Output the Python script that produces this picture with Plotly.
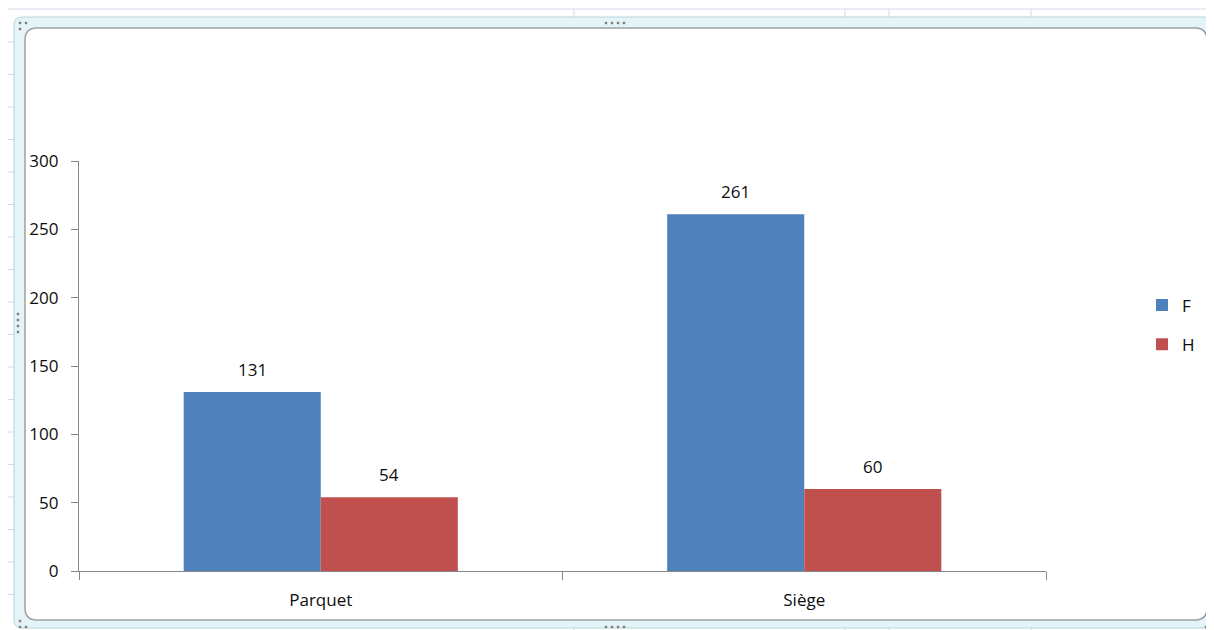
import plotly.graph_objects as go

categories = ["Parquet", "Siège"]
series_names = ["F", "H"]
values_F = [131, 261]
values_H = [54, 60]
colors = ["#4F81BD", "#C0504D"]
y_ticks = [0, 50, 100, 150, 200, 250, 300]

# page body has an 8px margin: the figure starts at (8, 8) of the window
OFF = 8
W, H = 1214, 630
FW, FH = W - OFF, H - OFF
L, R, T, B = 79, 1046, 161, 571   # plot area in window pixels


def px(x):
    return (x - L) / (R - L)


def py(y):
    return (B - y) / (B - T)


def rounded_path(x0, y0, x1, y1, r):
    a0, b0, a1, b1 = px(x0), py(y0), px(x1), py(y1)
    rx = r / (R - L)
    ry = r / (B - T)
    return (f"M {a0+rx},{b0} L {a1-rx},{b0} Q {a1},{b0} {a1},{b0-ry} "
            f"L {a1},{b1+ry} Q {a1},{b1} {a1-rx},{b1} L {a0+rx},{b1} "
            f"Q {a0},{b1} {a0},{b1+ry} L {a0},{b0-ry} Q {a0},{b0} {a0+rx},{b0} Z")


font_family = "Open Sans, Noto Sans, sans-serif"
FS = 17
TXT = "#0D0D0D"

fig = go.Figure()
fig.add_trace(go.Bar(name=series_names[0], x=categories, y=values_F,
                     marker=dict(color=colors[0], line=dict(width=0)),
                     legendgroup="a"))
fig.add_trace(go.Bar(name=series_names[1], x=categories, y=values_H,
                     marker=dict(color=colors[1], line=dict(width=0)),
                     legendgroup="b"))

# data labels above each bar
half_bar = 68.5
annotations = []
for vals, sh in [(values_F, -half_bar), (values_H, half_bar)]:
    for c, v in zip(categories, vals):
        annotations.append(dict(x=c, y=v, xref="x", yref="y", text=str(v),
                                showarrow=False, xshift=sh, yshift=9,
                                yanchor="bottom", xanchor="center",
                                font=dict(size=FS, color=TXT, family=font_family)))

shapes = []
grid_col = "#D4DAE8"
shapes.append(dict(type="line", xref="paper", yref="paper", x0=px(OFF), x1=px(W),
                   y0=py(9), y1=py(9), line=dict(color=grid_col, width=1), layer="below"))
for gx in [574, 845, 889, 1031]:
    shapes.append(dict(type="line", xref="paper", yref="paper", x0=px(gx), x1=px(gx),
                       y0=py(9), y1=py(20), line=dict(color=grid_col, width=1), layer="below"))
    shapes.append(dict(type="line", xref="paper", yref="paper", x0=px(gx), x1=px(gx),
                       y0=py(624), y1=py(H), line=dict(color=grid_col, width=1), layer="below"))
gy = 42
while gy < 625:
    shapes.append(dict(type="line", xref="paper", yref="paper", x0=px(OFF), x1=px(14),
                       y0=py(gy), y1=py(gy), line=dict(color=grid_col, width=1), layer="below"))
    gy += 32.5

# chart frame
shapes.append(dict(type="path", xref="paper", yref="paper",
                   path=rounded_path(14, 17, 1213, 628, 8),
                   fillcolor="#E4F4F7", line=dict(color="#B5D5DD", width=1), layer="below"))
shapes.append(dict(type="path", xref="paper", yref="paper",
                   path=rounded_path(25, 28, 1207, 620, 12),
                   fillcolor="white", line=dict(color="#A0A0A0", width=1.5), layer="below"))

# selection handle dots
dot = "#7F7F7F"
dots = []
for i in range(4):
    dots.append((606 + i * 6, 23))
    dots.append((606 + i * 6, 627))
for j in range(4):
    dots.append((18, 314 + j * 6))
    dots.append((1211, 314 + j * 6))
dots += [(20, 23), (26, 23), (20, 29), (1206, 627), (1212, 627), (1212, 621),
         (20, 627), (26, 627), (20, 621)]
for (dx, dy) in dots:
    shapes.append(dict(type="rect", xref="paper", yref="paper",
                       x0=px(dx - 1.2), x1=px(dx + 1.2), y0=py(dy - 1.2), y1=py(dy + 1.2),
                       fillcolor=dot, line=dict(width=0), layer="below"))

fig.update_layout(
    width=FW, height=FH,
    margin=dict(l=L - OFF, r=FW - (R - OFF), t=T - OFF, b=FH - (B - OFF), pad=0),
    paper_bgcolor="white",
    plot_bgcolor="rgba(0,0,0,0)",
    barmode="group",
    bargap=0.433,
    bargroupgap=0,
    font=dict(family=font_family, size=FS, color=TXT),
    shapes=shapes,
    annotations=annotations,
    showlegend=True,
    legend=dict(x=px(1142), y=py(325), xanchor="left", yanchor="middle",
                font=dict(size=FS, color=TXT), tracegroupgap=14,
                bgcolor="rgba(0,0,0,0)", itemwidth=30),
)
fig.update_yaxes(range=[0, 300], tickvals=y_ticks, showgrid=False, zeroline=False,
                 showline=True, linecolor="#868686", linewidth=1.3,
                 ticks="outside", ticklen=7, tickcolor="#868686",
                 tickfont=dict(size=FS, color=TXT), ticklabelstandoff=9)
fig.update_xaxes(showgrid=False, showline=True, linecolor="#868686", linewidth=1.3,
                 ticks="outside", ticklen=8, tickcolor="#868686", tickson="boundaries",
                 tickfont=dict(size=FS, color=TXT), ticklabelstandoff=13)

fig.write_html("out.html")
